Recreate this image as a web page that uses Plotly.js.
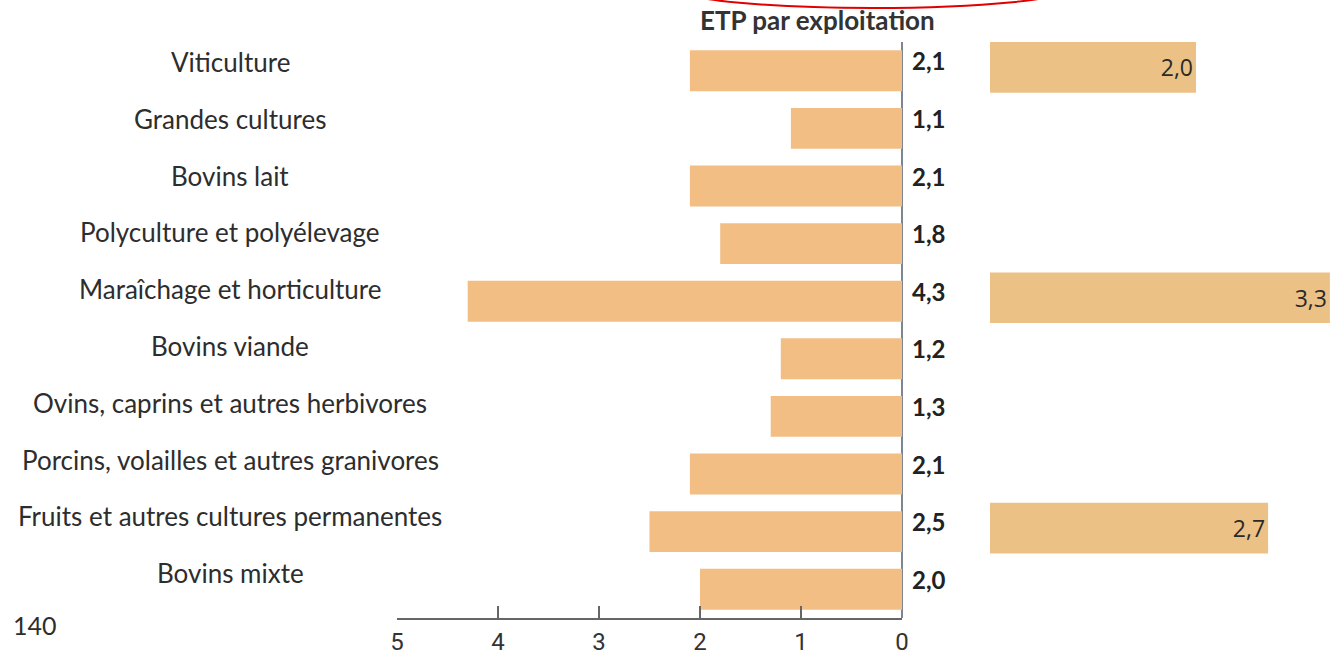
<!DOCTYPE html>
<html>
<head>
<meta charset="utf-8">
<script src="https://cdn.plot.ly/plotly-3.0.1.min.js"></script>
<style>html,body{margin:0;padding:0;background:#fff;}#chart{width:1344px;height:659px;}</style>
</head>
<body>
<div id="chart"></div>
<script>
// ---- Data ----
const categories = [
  "Viticulture",
  "Grandes cultures",
  "Bovins lait",
  "Polyculture et polyélevage",
  "Maraîchage et horticulture",
  "Bovins viande",
  "Ovins, caprins et autres herbivores",
  "Porcins, volailles et autres granivores",
  "Fruits et autres cultures permanentes",
  "Bovins mixte"
];
const etpValues = [2.1, 1.1, 2.1, 1.8, 4.3, 1.2, 1.3, 2.1, 2.5, 2.0];
const sideCategories = ["Viticulture", "Maraîchage et horticulture", "Fruits et autres cultures permanentes"];
const sideValues = [2.0, 3.3, 2.7];
const tickValues = [0, 1, 2, 3, 4, 5];
const tickLabels = ["0", "1", "2", "3", "4", "5"];
const chartTitle = "ETP par exploitation";
const pageNumber = "140";

// ---- Helpers ----
const W = 1344, H = 659, MT = 42, MB = 41;
const fmt = v => v.toFixed(1).replace(".", ",");
const px = x => x / W;                       // pixel x -> paper
const py = y => (H - MB - y) / (H - MT - MB); // pixel y -> paper
const textColor = "#2d2d2d";
const labelTop = 62, labelStep = 56.8;        // category label row layout (pixels)

const traces = [
  {
    type: "bar", orientation: "h",
    x: etpValues, y: categories,
    xaxis: "x", yaxis: "y",
    width: 0.71,
    marker: {color: "#F2BE84", line: {width: 0}},
    hoverinfo: "skip"
  },
  {
    type: "bar", orientation: "h",
    x: sideValues, y: sideCategories,
    xaxis: "x2", yaxis: "y",
    width: 0.88, offset: -0.5,
    marker: {color: "#EBC186", line: {width: 0}},
    text: sideValues.map(fmt),
    textposition: "inside",
    insidetextanchor: "end",
    constraintext: "none",
    textfont: {family: "Open Sans", size: 23, color: "#2a2a2a"},
    hoverinfo: "skip"
  }
];

const annotations = [];
categories.forEach((c, i) => {
  annotations.push({
    text: c, xref: "paper", x: px(230), xanchor: "center",
    yref: "paper", y: py(labelTop + labelStep * i), yanchor: "middle",
    showarrow: false,
    font: {family: "Lato", size: 26, color: textColor}
  });
  annotations.push({
    text: fmt(etpValues[i]), xref: "x", x: 0, xanchor: "left", xshift: 8,
    yref: "y", y: c, yanchor: "middle", yshift: 10,
    showarrow: false,
    font: {family: "Lato", size: 24, color: "#222", weight: "bold"}
  });
});
annotations.push({
  text: "<b>" + chartTitle + "</b>", xref: "paper", x: px(818), xanchor: "center",
  yref: "paper", y: py(20), yanchor: "middle",
  showarrow: false,
  font: {family: "Lato", size: 26, color: "#333"}
});
annotations.push({
  text: pageNumber, xref: "paper", x: px(11), xanchor: "left",
  yref: "paper", y: py(625), yanchor: "middle",
  showarrow: false,
  font: {family: "Lato", size: 25, color: textColor}
});

const layout = {
  width: W, height: H,
  margin: {l: 0, r: 0, t: MT, b: MB, pad: 0},
  paper_bgcolor: "#fff", plot_bgcolor: "rgba(0,0,0,0)",
  showlegend: false,
  hovermode: false,
  xaxis: {
    domain: [px(397), px(902)],
    range: [5, 0],
    tickvals: tickValues, ticktext: tickLabels,
    ticks: "inside", ticklen: 12, tickwidth: 1.5, tickcolor: "#666",
    showline: true, linecolor: "#666", linewidth: 1.5,
    showgrid: false,
    zeroline: true, zerolinecolor: "#7d8590", zerolinewidth: 1.5,
    tickfont: {family: "Roboto", size: 24, color: "#333"},
    ticklabelstandoff: 2,
    fixedrange: true
  },
  xaxis2: {
    domain: [px(990), 1],
    range: [0, (W - 990) / 103],
    anchor: "y",
    visible: false, showgrid: false, zeroline: false,
    fixedrange: true
  },
  yaxis: {
    type: "category",
    categoryorder: "array", categoryarray: categories,
    autorange: "reversed",
    showticklabels: false, ticks: "", showgrid: false, zeroline: false, showline: false,
    fixedrange: true
  },
  annotations: annotations,
  shapes: [{
    type: "circle", xref: "paper", yref: "paper",
    x0: px(676), x1: px(1070), y0: py(8), y1: py(-31.4),
    line: {color: "#e00000", width: 2}, fillcolor: "rgba(0,0,0,0)", layer: "above"
  }]
};

Plotly.newPlot("chart", traces, layout, {displayModeBar: false, staticPlot: true});
</script>
</body>
</html>
